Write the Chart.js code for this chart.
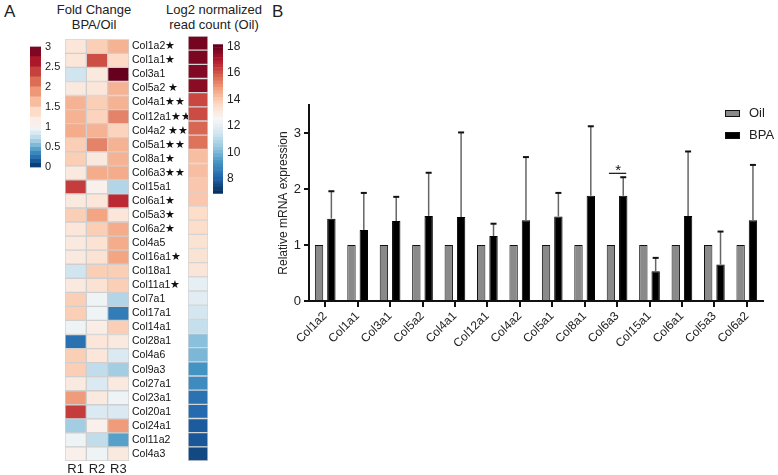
<!DOCTYPE html>
<html>
<head>
<meta charset="utf-8">
<script src="https://cdn.jsdelivr.net/npm/chart.js@4.4.1/dist/chart.umd.min.js"></script>
<style>
  body { margin: 0; background: #fff; width: 778px; height: 475px; position: relative; overflow: hidden;
         font-family: "Liberation Sans", Arial, sans-serif; color: #222; }
  canvas { position: absolute; }
  .txt { position: absolute; text-align: center; white-space: nowrap; }
</style>
</head>
<body>
<div class="txt" style="left:4px;top:2px;font-size:17px">A</div>
<div class="txt" style="left:44px;top:2px;width:100px;font-size:13px;line-height:15px">Fold Change<br>BPA/Oil</div>
<div class="txt" style="left:159px;top:2px;width:110px;font-size:13px;line-height:15px">Log2 normalized<br>read count (Oil)</div>
<div class="txt" style="left:272px;top:2px;font-size:17px">B</div>

<canvas id="fcBar" width="36" height="142" style="left:30px;top:36px"></canvas>
<canvas id="heat" width="190" height="445" style="left:0;top:30px"></canvas>
<canvas id="reads" width="20" height="425" style="left:188px;top:36px"></canvas>
<canvas id="readBar" width="34" height="172" style="left:213px;top:33px"></canvas>
<canvas id="qpcr" width="528" height="395" style="left:250px;top:80px"></canvas>

<script>
// ---- panel A : heatmap ----
const genes = ["Col1a2", "Col1a1", "Col3a1", "Col5a2", "Col4a1", "Col12a1", "Col4a2", "Col5a1", "Col8a1", "Col6a3",
  "Col15a1", "Col6a1", "Col5a3", "Col6a2", "Col4a5", "Col16a1", "Col18a1", "Col11a1", "Col7a1", "Col17a1",
  "Col14a1", "Col28a1", "Col4a6", "Col9a3", "Col27a1", "Col23a1", "Col20a1", "Col24a1", "Col11a2", "Col4a3"];
const geneStars = ["★", "★", "", " ★", "★★", "★★", " ★★", "★★", "★", "★★",
  "", "★", "★", "★", "", "★", "", "★", "", "",
  "", "", "", "", "", "", "", "", "", ""];
const replicates = ["R1", "R2", "R3"];
// fold change BPA/Oil per replicate
const foldR1 = [1.25, 1.25, 0.8, 1.2, 1.7, 1.7, 1.75, 1.5, 1.5, 1.2,
  2.4, 1.2, 1.5, 1.25, 1.2, 1.2, 0.8, 1.2, 1.5, 1.5,
  0.95, 0.25, 1.5, 1.5, 1.2, 1.85, 2.4, 0.65, 0.95, 1.1];
const foldR2 = [1.5, 2.3, 1.2, 1.25, 1.5, 1.45, 1.7, 2.0, 1.2, 1.75,
  1.1, 1.25, 1.8, 1.5, 1.3, 1.3, 1.5, 1.3, 0.95, 0.95,
  1.15, 1.25, 1.25, 0.75, 0.85, 1.2, 0.85, 1.1, 0.75, 0.95];
const foldR3 = [1.7, 1.4, 3.0, 1.7, 1.7, 2.0, 1.45, 1.7, 1.7, 1.75,
  0.7, 2.5, 1.25, 1.75, 1.75, 1.8, 1.5, 1.5, 0.7, 0.3,
  1.5, 1.2, 0.85, 0.65, 1.2, 0.95, 0.85, 1.85, 0.45, 1.2];
// log2 normalized read count (Oil)
const readCount = [17.8, 17.7, 17.6, 17.5, 16.2, 16.1, 15.7, 15.5, 14.2, 14.2,
  14.0, 14.0, 13.5, 13.5, 13.3, 13.3, 13.2, 12.0, 11.9, 11.5,
  11.2, 10.2, 10.0, 9.2, 9.0, 8.4, 8.2, 7.9, 7.8, 7.5];
const foldTicks = [0, 0.5, 1, 1.5, 2, 2.5, 3];
const readTicks = [8, 10, 12, 14, 16, 18];

// ---- panel B : qPCR ----
const qGenes = ["Col1a2", "Col1a1", "Col3a1", "Col5a2", "Col4a1", "Col12a1", "Col4a2",
  "Col5a1", "Col8a1", "Col6a3", "Col15a1", "Col6a1", "Col5a3", "Col6a2"];
const oilMean = [1, 1, 1, 1, 1, 1, 1, 1, 1, 1, 1, 1, 1, 1];
const bpaMean = [1.47, 1.27, 1.43, 1.52, 1.50, 1.16, 1.44, 1.51, 1.88, 1.88, 0.53, 1.52, 0.65, 1.44];
const bpaErrTop = [1.96, 1.93, 1.86, 2.29, 3.01, 1.38, 2.57, 1.93, 3.12, 2.21, 0.77, 2.67, 1.24, 2.43];
const yTicks = [0, 1, 2, 3];
const sigGene = "Col6a3";
const sigLevel = 2.28;

const FONT = "'Liberation Sans', Arial, sans-serif";
Chart.defaults.font.family = FONT;
Chart.defaults.color = "#222";
Chart.defaults.animation = false;
Chart.defaults.plugins.legend.display = false;
Chart.defaults.plugins.tooltip.enabled = false;

// RdBu colour scale
const rdbu = ["#053061", "#2166ac", "#4393c3", "#92c5de", "#d1e5f0", "#f7f7f7",
  "#fddbc7", "#f4a582", "#d6604d", "#b2182b", "#67001f"];
function hex(h) {
  return [1, 3, 5].map(i => parseInt(h.slice(i, i + 2), 16));
}
function mix(t) {
  t = Math.max(0, Math.min(1, t));
  const p = t * 10;
  const i = Math.min(9, Math.floor(p));
  const f = p - i;
  const a = hex(rdbu[i]), b = hex(rdbu[i + 1]);
  const c = a.map((v, k) => Math.round(v + (b[k] - v) * f));
  return `rgb(${c[0]},${c[1]},${c[2]})`;
}
function foldColor(v) {
  return mix(v <= 1 ? v / 2 : 0.5 + (v - 1) / 4);
}
function readColor(v) {
  return mix((v - 7) / 11);
}

// heatmap of fold changes
const foldCols = [foldR1, foldR2, foldR3];
new Chart(document.getElementById("heat"), {
  type: "bar",
  data: {
    labels: genes,
    datasets: foldCols.map((col, c) => ({
      data: col.map(() => [c, c + 1]),
      backgroundColor: col.map(foldColor),
      borderColor: "#cfcfcf",
      borderWidth: 1,
      borderSkipped: false,
      grouped: false,
      barPercentage: 1,
      categoryPercentage: 1
    }))
  },
  options: {
    responsive: false,
    indexAxis: "y",
    layout: { padding: { left: 65, top: 6, right: 0, bottom: 0 } },
    scales: {
      x: {
        type: "linear", min: 0, max: 3, position: "bottom",
        grid: { display: false, drawTicks: false }, border: { display: false },
        afterBuildTicks: s => { s.ticks = replicates.map((r, i) => ({ value: i + 0.5 })); },
        afterFit: s => { s.height = 14; },
        ticks: { font: { size: 13 }, padding: 1, callback: (v, i) => replicates[i] }
      },
      y: {
        position: "right",
        grid: { display: false, drawTicks: false }, border: { display: false },
        afterFit: s => { s.width = 61; },
        ticks: { font: { size: 10.5 }, color: "#111", padding: 3, autoSkip: false,
                 callback: (v, i) => genes[i] + geneStars[i] }
      }
    }
  }
});

// read count column
new Chart(document.getElementById("reads"), {
  type: "bar",
  data: {
    labels: genes,
    datasets: [{
      data: readCount.map(() => [0, 1]),
      backgroundColor: readCount.map(readColor),
      borderColor: "#d4d4d4",
      borderWidth: 1,
      borderSkipped: false,
      barPercentage: 1,
      categoryPercentage: 1
    }]
  },
  options: {
    responsive: false,
    indexAxis: "y",
    scales: {
      x: { type: "linear", min: 0, max: 1, display: false },
      y: { display: false }
    }
  }
});

// colour bars (bands)
function bandSets(edges, colorFn) {
  const sets = [];
  for (let i = 0; i < edges.length - 1; i++) {
    sets.push({
      data: [[edges[i], edges[i + 1]]],
      backgroundColor: colorFn((edges[i] + edges[i + 1]) / 2),
      borderWidth: 0,
      grouped: false,
      barPercentage: 1,
      categoryPercentage: 1
    });
  }
  return sets;
}
const foldEdges = [];
for (let v = 0; v < 1; v += 0.1) foldEdges.push(+v.toFixed(2));
for (let v = 1; v <= 3.001; v += 0.25) foldEdges.push(+v.toFixed(2));
const readEdges = [];
for (let v = 6.9; v <= 18.16; v += 0.25) readEdges.push(+v.toFixed(2));

function colorBar(id, edges, colorFn, min, max, ticks, pad, fontSize, width) {
  new Chart(document.getElementById(id), {
    type: "bar",
    data: { labels: [""], datasets: bandSets(edges, colorFn) },
    options: {
      responsive: false,
      layout: { padding: pad },
      scales: {
        x: { display: false },
        y: {
          type: "linear", min: min, max: max, position: "right",
          grid: { display: false, drawTicks: false }, border: { display: false },
          afterBuildTicks: s => { s.ticks = ticks.map(v => ({ value: v })); },
          afterFit: s => { s.width = width; },
          ticks: { font: { size: fontSize }, padding: 4, callback: v => String(v) }
        }
      }
    }
  });
}
colorBar("fcBar", foldEdges, foldColor, 0, 3, foldTicks, { top: 5, bottom: 5 }, 11, 25);
colorBar("readBar", readEdges, readColor, 6.9, 18.15, readTicks, { top: 4, bottom: 4 }, 12, 24);

// ---- panel B plugins ----
const errorBars = {
  id: "errorBars",
  afterDatasetsDraw(chart) {
    const ctx = chart.ctx;
    const y = chart.scales.y;
    const meta = chart.getDatasetMeta(1);
    ctx.save();
    meta.data.forEach((bar, i) => {
      const top = y.getPixelForValue(bpaErrTop[i]);
      ctx.strokeStyle = "#666";
      ctx.lineWidth = 1.5;
      ctx.beginPath();
      ctx.moveTo(bar.x, bar.y);
      ctx.lineTo(bar.x, top);
      ctx.stroke();
      ctx.strokeStyle = "#111";
      ctx.lineWidth = 2;
      ctx.beginPath();
      ctx.moveTo(bar.x - 3, top);
      ctx.lineTo(bar.x + 3, top);
      ctx.stroke();
    });
    // significance mark
    const k = qGenes.indexOf(sigGene);
    const oilBar = chart.getDatasetMeta(0).data[k];
    const bpaBar = meta.data[k];
    const sy = y.getPixelForValue(sigLevel);
    ctx.strokeStyle = "#111";
    ctx.lineWidth = 1.2;
    ctx.beginPath();
    ctx.moveTo(oilBar.x - 2, sy);
    ctx.lineTo(bpaBar.x + 3, sy);
    ctx.stroke();
    ctx.fillStyle = "#111";
    ctx.font = "15px " + FONT;
    ctx.textAlign = "center";
    ctx.textBaseline = "alphabetic";
    ctx.fillText("*", (oilBar.x + bpaBar.x) / 2 + 1, sy + 2);
    ctx.restore();
  }
};

const boxLegend = {
  id: "boxLegend",
  afterDraw(chart) {
    const ctx = chart.ctx;
    const a = chart.chartArea;
    ctx.save();
    chart.data.datasets.forEach((ds, i) => {
      const x = a.right - 38;
      const yy = a.top + 5 + i * 22;
      ctx.fillStyle = ds.backgroundColor;
      ctx.fillRect(x, yy, 15, 7);
      ctx.strokeStyle = "#111";
      ctx.lineWidth = 1;
      ctx.strokeRect(x + 0.5, yy + 0.5, 14, 6);
      ctx.fillStyle = "#222";
      ctx.font = "13px " + FONT;
      ctx.textBaseline = "middle";
      ctx.fillText(ds.label, x + 24, yy + 3.5);
    });
    ctx.restore();
  }
};

new Chart(document.getElementById("qpcr"), {
  type: "bar",
  data: {
    labels: qGenes,
    datasets: [
      { label: "Oil", data: oilMean, backgroundColor: "#8a8a8a", borderColor: "#111", borderWidth: 1,
        categoryPercentage: 0.76, barPercentage: 0.68 },
      { label: "BPA", data: bpaMean, backgroundColor: "#000", borderColor: "#000", borderWidth: 1,
        categoryPercentage: 0.76, barPercentage: 0.68 }
    ]
  },
  options: {
    responsive: false,
    layout: { padding: { left: 22, top: 25, right: 15, bottom: 0 } },
    scales: {
      x: {
        offset: true,
        grid: { offset: false, drawOnChartArea: false, drawTicks: true, tickLength: 6, color: "#111", lineWidth: 2 },
        border: { color: "#111", width: 2 },
        afterFit: s => { s.height = 174; },
        ticks: { font: { size: 12 }, color: "#222", minRotation: 45, maxRotation: 45, padding: 2, autoSkip: false }
      },
      y: {
        min: 0, max: 3.5,
        grid: { drawOnChartArea: false, drawTicks: true, tickLength: 5, color: "#111", lineWidth: 2 },
        border: { color: "#111", width: 2 },
        afterBuildTicks: s => { s.ticks = yTicks.map(v => ({ value: v })); },
        afterFit: s => { s.width = 37; },
        ticks: { font: { size: 13 }, color: "#222", padding: 3 },
        title: { display: true, text: "Relative mRNA expression", font: { size: 12 }, color: "#222" }
      }
    }
  },
  plugins: [errorBars, boxLegend]
});
</script>
</body>
</html>
